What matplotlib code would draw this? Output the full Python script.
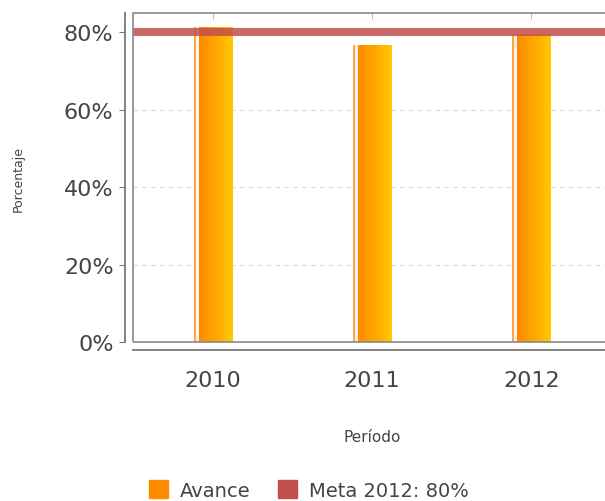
import numpy as np
import matplotlib
matplotlib.use('Agg')
import matplotlib.pyplot as plt
from matplotlib.patches import Rectangle
from matplotlib.colors import to_rgb

# data
years = ['2010', '2011', '2012']
avance = [81.3, 76.6, 79.6]
meta = 80

fig = plt.figure(figsize=(6.05, 5.02), dpi=100)
ax = fig.add_axes([0.2198, 0.3167, 0.790, 0.655])

x = np.arange(len(years))
w = 0.24
bars = ax.bar(x, avance, width=w, color='none', zorder=2)

# bar fill: thin light strip, small white gap, then orange -> yellow gradient
n = 38
cols = []
for i in range(n):
    if i < 2:
        cols.append(to_rgb('#ffa64d'))
    elif i < 5:
        cols.append(to_rgb('#fff3e6'))
    else:
        t = (i - 5) / (n - 6)
        a, b = np.array(to_rgb('#ff8800')), np.array(to_rgb('#ffc800'))
        cols.append(tuple(a + (b - a) * t))
img = np.array(cols).reshape(1, n, 3)
for b in bars:
    x0, y0 = b.get_x(), b.get_y()
    im = ax.imshow(img, extent=[x0, x0 + b.get_width(), y0, y0 + b.get_height()],
                   aspect='auto', zorder=2, interpolation='nearest')
    im.set_clip_path(b)

ax.axhline(meta, color='#c0504d', lw=5.8, alpha=0.85, zorder=3)

ax.set_xlim(-0.5, 2.5)
ax.set_ylim(0, 84.9)
ax.set_yticks([0, 20, 40, 60, 80])
ax.set_yticklabels(['0%', '20%', '40%', '60%', '80%'])
ax.set_xticks(x)
ax.set_xticklabels(years)
ax.yaxis.grid(True, ls=(0, (4, 4)), color='#d8d8d8', lw=0.8)
ax.set_axisbelow(True)

for s in ['top', 'right']:
    ax.spines[s].set_visible(False)
for s in ['left', 'bottom']:
    ax.spines[s].set_position(('outward', 6))
    ax.spines[s].set_color('#777777')
    ax.spines[s].set_linewidth(1.3)
ax.add_patch(Rectangle((0, 0), 1, 1, transform=ax.transAxes, fill=False,
                       ec='#888888', lw=1.2, clip_on=False, zorder=4))

ax.tick_params(axis='y', length=4, color='#777777', labelsize=16,
               labelcolor='#444444', pad=4)
ax.tick_params(axis='x', bottom=False, top=True, direction='in', length=4,
               color='#bbbbbb', labelsize=16, labelcolor='#444444', pad=14)

ax.set_ylabel('Porcentaje', fontsize=9, color='#444444', labelpad=28)
ax.set_xlabel('Período', fontsize=11, color='#444444', labelpad=28)

# legend
h1 = Rectangle((0, 0), 1, 1, color='#ff8c00')
h2 = Rectangle((0, 0), 1, 1, color='#c0504d')
fig.legend([h1, h2], ['Avance', 'Meta 2012: 80%'], loc='center',
           bbox_to_anchor=(0.51, 0.022), ncol=2, frameon=False, fontsize=14,
           handlelength=1.0, handleheight=1.0, handletextpad=0.6,
           columnspacing=1.4, labelcolor='#444444')

fig.savefig('out.png', dpi=100)
